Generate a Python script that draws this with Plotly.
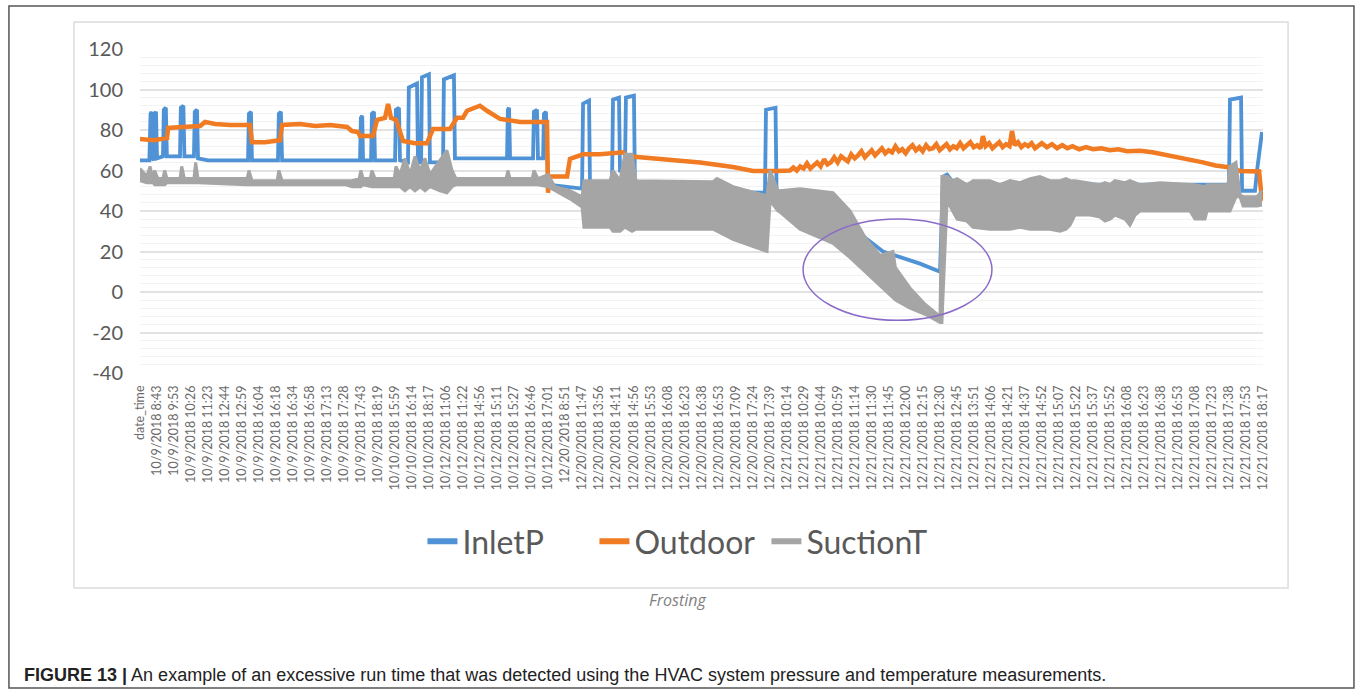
import plotly.graph_objects as go

# Category labels along the time axis (one every 10 samples of the logger export)
tick_labels = [
    "date_time", "10/9/2018 8:43", "10/9/2018 9:53", "10/9/2018 10:26", "10/9/2018 11:23",
    "10/9/2018 12:44", "10/9/2018 12:59", "10/9/2018 16:04", "10/9/2018 16:18", "10/9/2018 16:34",
    "10/9/2018 16:58", "10/9/2018 17:13", "10/9/2018 17:28", "10/9/2018 17:43", "10/9/2018 18:19",
    "10/10/2018 15:59", "10/10/2018 16:14", "10/10/2018 18:17", "10/12/2018 11:06", "10/12/2018 11:22",
    "10/12/2018 14:56", "10/12/2018 15:11", "10/12/2018 15:27", "10/12/2018 16:46", "10/12/2018 17:01",
    "12/20/2018 8:51", "12/20/2018 11:47", "12/20/2018 13:56", "12/20/2018 14:11", "12/20/2018 14:56",
    "12/20/2018 15:53", "12/20/2018 16:08", "12/20/2018 16:23", "12/20/2018 16:38", "12/20/2018 16:53",
    "12/20/2018 17:09", "12/20/2018 17:24", "12/20/2018 17:39", "12/21/2018 10:14", "12/21/2018 10:29",
    "12/21/2018 10:44", "12/21/2018 10:59", "12/21/2018 11:14", "12/21/2018 11:30", "12/21/2018 11:45",
    "12/21/2018 12:00", "12/21/2018 12:15", "12/21/2018 12:30", "12/21/2018 12:45", "12/21/2018 13:51",
    "12/21/2018 14:06", "12/21/2018 14:21", "12/21/2018 14:37", "12/21/2018 14:52", "12/21/2018 15:07",
    "12/21/2018 15:22", "12/21/2018 15:37", "12/21/2018 15:52", "12/21/2018 16:08", "12/21/2018 16:23",
    "12/21/2018 16:38", "12/21/2018 16:53", "12/21/2018 17:08", "12/21/2018 17:23", "12/21/2018 17:38",
    "12/21/2018 17:53", "12/21/2018 18:17",
]
tick_pos = list(range(len(tick_labels)))

y_ticks = [-40, -20, 0, 20, 40, 60, 80, 100, 120]
y_tick_text = ["-40", "-20", "0", "20", "40", "60", "80", "100", "120"]

# InletP (pressure) – position on the label axis and value
inlet_x = [0.00, 0.55, 0.62, 0.68, 0.74, 0.80, 0.86, 0.94, 1.00, 1.35, 1.40, 1.52, 1.58, 2.35, 2.40,
           2.55, 2.61, 3.17, 3.22, 3.35, 3.41, 4.00, 6.35, 6.40, 6.52, 6.58, 8.11, 8.16, 8.28, 8.35,
           12.93, 12.98, 13.06, 13.11, 13.58, 13.63, 13.75, 13.81, 14.99, 15.04, 15.22, 15.28, 15.75,
           15.80, 16.28, 16.34, 16.52, 16.57, 16.98, 17.04, 17.81, 17.86, 18.45, 18.51, 21.57, 21.62,
           21.69, 21.75, 23.10, 23.15, 23.33, 23.39, 23.69, 23.74, 23.86, 23.92, 23.98, 25.98, 26.04,
           26.39, 26.45, 27.74, 27.80, 28.15, 28.21, 28.50, 28.56, 29.03, 29.09, 36.73, 36.79, 37.35,
           37.41, 38.79, 41.14, 42.73, 43.67, 45.84, 47.02, 47.19, 47.43, 47.90, 64.00, 64.06, 64.71,
           64.77, 65.53, 65.65, 65.94]
inlet_y = [65, 65, 88, 89, 66, 65, 88, 89, 66, 67, 90, 91, 67, 67, 91,
           92, 67, 67, 89, 90, 66, 65, 65, 88, 89, 65, 65, 88, 89, 65,
           65, 86, 87, 65, 65, 88, 89, 65, 65, 90, 91, 65, 64,
           101, 103, 64, 64, 106, 107.5, 64, 64, 105, 107, 66, 66, 90,
           91, 66, 66, 89, 90, 66, 66, 88, 89, 66, 53, 51, 93,
           94.5, 51, 52, 95, 96, 60, 60, 96, 97, 50, 49, 90, 91,
           50, 48, 38, 26, 20, 14, 10, 57, 58, 53, 53, 95, 96,
           50, 50, 60, 79]

# Outdoor temperature
outdoor_x = [0.00, 0.80, 1.59, 1.65, 2.50, 3.53, 3.82, 4.41, 5.30, 6.46, 6.58, 7.35, 8.23, 8.35, 9.40,
             10.30, 11.17, 12.17, 12.46, 12.81, 12.93, 13.69, 13.93, 14.40, 14.58, 14.75, 15.05, 15.28,
             15.46, 16.16, 16.87, 17.22, 18.22, 18.63, 18.98, 19.22, 19.69, 19.98, 20.39, 21.16, 22.33,
             23.92, 23.98, 24.10, 25.10, 25.27, 26.04, 27.03, 28.39, 28.62, 29.39, 32.91, 34.85, 36.03,
             37.44, 38.00, 38.20, 38.40, 38.60, 38.80, 39.00, 39.20, 39.40, 39.60, 39.80, 40.00, 40.20,
             40.40, 40.60, 40.80, 41.00, 41.20, 41.40, 41.60, 41.80, 42.00, 42.20, 42.40, 42.60, 42.80,
             43.00, 43.20, 43.40, 43.60, 43.80, 44.00, 44.20, 44.40, 44.60, 44.80, 45.00, 45.20, 45.40,
             45.60, 45.80, 46.00, 46.20, 46.40, 46.60, 46.80, 47.00, 47.20, 47.40, 47.60, 47.80, 48.00,
             48.20, 48.40, 48.60, 48.80, 49.00, 49.20, 49.40, 49.54, 49.70, 49.90, 50.10, 50.30, 50.50,
             50.70, 50.90, 51.10, 51.25, 51.40, 51.60, 51.80, 52.00, 52.20, 52.40, 52.60, 52.80, 53.00,
             53.30, 53.60, 53.90, 54.20, 54.50, 54.80, 55.20, 55.60, 56.00, 56.50, 57.00, 57.50, 58.00,
             58.77, 59.50, 60.71, 61.50, 62.47, 63.20, 63.88, 64.65, 65.77, 65.94]
outdoor_y = [75.5, 75, 76, 81, 81.5, 82, 84, 83, 82.5, 82.5, 74, 74, 75, 82.5, 83,
             82, 82.5, 81.5, 79.5, 79, 77, 77, 85, 86, 92.8, 86, 85, 78,
             74.6, 73.5, 73.5, 80.5, 80.5, 86, 86, 89.5, 91, 92, 89.5, 85.5, 84,
             84, 49, 57, 57, 65.7, 68, 68, 69, 67, 66.5, 64, 61.7, 59.8,
             59.8, 60, 60, 61.5, 60, 62, 61, 63.5, 61, 62.5, 64, 62, 65.5,
             63, 64, 66.5, 64, 67, 65.5, 64.5, 68, 66, 67.5, 69.5, 66.5, 68,
             70, 67.5, 69, 71, 68.5, 70, 69, 72, 69.5, 70.5, 68.5, 71, 72.5,
             70, 71.5, 69.5, 72.5, 70.5, 71, 73, 70, 71.5, 73, 70.5, 72, 71,
             73.5, 71, 72.5, 74, 71.5, 72.5, 71, 77, 72, 73.5, 71, 72.5, 74,
             71.5, 73, 72, 79.5, 72.5, 74, 71.5, 73, 72, 73.5, 71, 72.5, 73.5,
             71.5, 73, 71, 72.5, 71, 72, 70.5, 71.5, 70.5, 71, 70, 70.5, 69.5,
             69.7, 69, 67, 66, 64, 62.5, 61.7, 59.8, 59.5, 45]

# SuctionT – the cycling signal, given as its lower and upper extent at each position
suction_x = [0.00, 0.40, 0.59, 0.76, 0.86, 1.05, 1.35, 1.45, 1.59, 2.35, 2.45, 2.61, 3.17, 3.27, 3.41,
             6.30, 6.40, 6.58, 8.06, 8.16, 8.35, 12.05, 12.46, 12.88, 12.98, 13.11, 13.53, 13.63, 13.81,
             14.94, 15.04, 15.28, 15.57, 15.87, 16.16, 16.46, 16.75, 17.04, 17.63, 18.04, 18.34, 18.57,
             21.52, 21.62, 21.75, 23.05, 23.15, 23.39, 23.98, 24.39,
             25.27, 25.98, 26.09, 27.62, 27.80, 28.21, 28.50, 28.92, 29.15, 33.68, 33.91, 34.85, 36.85,
             37.03, 37.50, 37.61, 38.79, 40.73, 41.73, 42.61, 43.49, 44.25, 44.40, 45.25, 46.14, 47.02,
             47.13, 47.43, 47.78, 48.02, 48.60, 48.96, 49.96, 50.54, 51.13, 51.72, 52.31, 52.89, 53.48,
             54.07, 54.42, 54.66, 54.95, 55.83, 56.42, 56.71, 57.01, 57.30, 57.89, 58.18, 58.48, 58.77,
             59.95, 61.71, 62.00, 62.59, 62.71, 63.94, 64.06, 64.41, 64.65, 64.83, 65.65, 65.94]
suction_lo = [55, 54, 54, 54, 53, 53, 53, 53, 54, 54, 54, 54, 54, 54, 54,
              53, 53, 53, 53, 53, 53, 53, 52, 52, 52, 53, 52, 52, 52,
              52, 52, 52, 50, 52, 50, 52, 50, 52, 50, 49, 52, 53,
              53, 53, 53, 53, 53, 53, 52, 50,
              46, 42, 32, 32, 30, 30, 32, 30, 31, 31, 30, 26, 20,
              45, 40, 39.5, 31, 24, 17, 10, 3, -3, -4, -8, -11, -15,
              -15, 45, 40, 36, 35, 32, 31, 31, 31, 32, 31, 31, 31,
              30, 31, 33, 38, 38, 37, 35, 36, 38, 36, 33, 38, 40,
              40, 40, 36, 36, 40, 40, 40, 47, 47, 42.5, 42.5, 43]
suction_hi = [61, 57, 62, 56, 60, 56, 56, 60, 56, 56, 62, 56, 56, 64, 56,
              56, 60, 55, 55, 60, 55, 55, 55, 56, 60, 56, 56, 60, 56,
              56, 62, 58, 66, 58, 67, 60, 66, 58, 65, 70, 60, 56,
              56, 60, 56, 56, 60, 56, 58, 52,
              50, 47, 55, 55, 60, 55, 68, 68, 55, 54.5, 56, 52, 47.5,
              60, 50, 50, 51, 49, 40, 27, 18, 20, 12, 2, -6, -12,
              57, 57, 55, 56, 53, 55, 55, 53, 55, 54, 56, 57, 55,
              55, 56, 55, 55, 54, 53, 54, 53, 55, 54, 55, 54, 53,
              54, 53, 53, 52, 53, 53, 62, 64, 48, 47, 47, 50]

BLUE = "#4f93d6"
ORANGE = "#f07b22"
GRAY = "#a5a5a5"
TXT = "#595959"
FONT = "Lato"

fig = go.Figure()

# Series drawn in workbook order: InletP, Outdoor, SuctionT on top
fig.add_trace(go.Scatter(x=inlet_x, y=inlet_y, mode="lines", name="InletP", showlegend=False,
                         line=dict(color=BLUE, width=3.8)))
fig.add_trace(go.Scatter(x=outdoor_x, y=outdoor_y, mode="lines", name="Outdoor", showlegend=False,
                         line=dict(color=ORANGE, width=4.5)))
fig.add_trace(go.Scatter(x=suction_x, y=suction_hi, mode="lines", name="SuctionT", showlegend=False,
                         line=dict(color=GRAY, width=3)))
fig.add_trace(go.Scatter(x=suction_x, y=suction_lo, mode="lines", name="SuctionT", showlegend=False,
                         line=dict(color=GRAY, width=3), fill="tonexty", fillcolor=GRAY))

# Legend keys with the heavier key stroke
for name, col in [("InletP", BLUE), ("Outdoor", ORANGE), ("SuctionT", GRAY)]:
    fig.add_trace(go.Scatter(x=[None], y=[None], mode="lines", name=name,
                             line=dict(color=col, width=6)))

fig.update_layout(
    width=1357, height=693,
    margin=dict(l=140, r=94, t=49, b=320),
    paper_bgcolor="white", plot_bgcolor="white",
    font=dict(family=FONT, color=TXT),
    legend=dict(orientation="h", x=0.2515, xanchor="left", y=-0.52, yanchor="middle",
                traceorder="normal", itemwidth=30, entrywidth=127, entrywidthmode="pixels",
                font=dict(size=32, color=TXT, family=FONT), bgcolor="rgba(0,0,0,0)"),
    xaxis=dict(range=[0, 66], tickmode="array", tickvals=tick_pos, ticktext=tick_labels,
               tickangle=-90, tickfont=dict(size=12.5, color="#6a6a6a", family=FONT),
               showgrid=False, zeroline=False, showline=False, ticks="", ticklabelstandoff=9),
    yaxis=dict(range=[-40, 120], tickmode="array", tickvals=y_ticks, ticktext=y_tick_text,
               tickfont=dict(size=20, color=TXT, family=FONT),
               showgrid=True, gridcolor="#e2e2e2", gridwidth=2, zeroline=False, showline=False,
               ticks="", ticklabelstandoff=16,
               minor=dict(dtick=4, showgrid=True, gridcolor="#f3f3f3", gridwidth=1)),
    shapes=[
        # outer figure frame
        dict(type="rect", xref="paper", yref="paper", x0=-0.1167, x1=1.0810, y0=-0.9722, y1=1.1327,
             line=dict(color="#555555", width=1.5), fillcolor="rgba(0,0,0,0)", layer="below"),
        # chart area frame
        dict(type="rect", xref="paper", yref="paper", x0=-0.0588, x1=1.0223, y0=-0.6636, y1=1.0833,
             line=dict(color="#dcdcdc", width=1.5), fillcolor="rgba(0,0,0,0)", layer="below"),
        # frosting period marker
        dict(type="circle", xref="x", yref="y", x0=38.97, x1=50.07, y0=-14, y1=36,
             line=dict(color="#8a6cc8", width=1.5), fillcolor="rgba(0,0,0,0)"),
    ],
    annotations=[
        dict(text="<i>Frosting</i>", xref="paper", yref="paper", x=0.479, y=-0.741,
             showarrow=False, font=dict(size=16, color="#7f7f7f", family="Open Sans")),
        dict(text="<b>FIGURE 13</b> <b>|</b> An example of an excessive run time that was detected using the HVAC system pressure and temperature measurements.",
             xref="paper", yref="paper", x=-0.105, y=-0.932, xanchor="left", yanchor="middle",
             showarrow=False, font=dict(size=18, color="#222222", family="Liberation Sans")),
    ],
)

fig.write_html("out.html")
